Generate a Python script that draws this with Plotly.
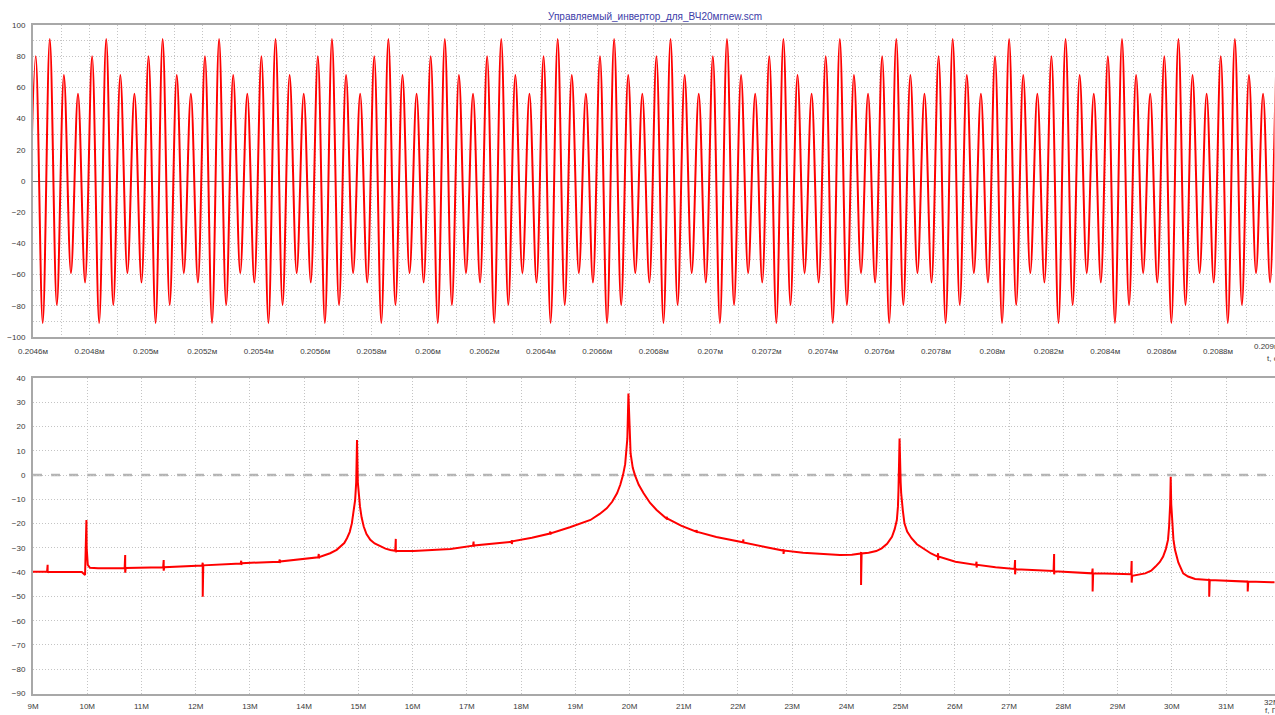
import numpy as np
import plotly.graph_objects as go

# ---------------- data ----------------
TITLE = "Управляемый_инвертор_для_ВЧ20мгnew.scm"

# time-domain: one repeat period (0.2 us) of alternating peak values
wave_period_peaks = [-65, 80, -91, 91, -79.5, 68, -59, 56]
wave_first_peak_ms = 0.2045845      # time of first listed peak (ms)
wave_half_period_ms = 0.000025      # spacing between successive peaks (ms)
wave_periods = 23                   # number of repeats shown

t_tickvals = [0.2046, 0.2048, 0.2050, 0.2052, 0.2054, 0.2056, 0.2058, 0.2060,
              0.2062, 0.2064, 0.2066, 0.2068, 0.2070, 0.2072, 0.2074, 0.2076,
              0.2078, 0.2080, 0.2082, 0.2084, 0.2086, 0.2088, 0.2090]
t_ticktext = ["0.2046м", "0.2048м", "0.205м", "0.2052м", "0.2054м", "0.2056м",
              "0.2058м", "0.206м", "0.2062м", "0.2064м", "0.2066м", "0.2068м",
              "0.207м", "0.2072м", "0.2074м", "0.2076м", "0.2078м", "0.208м",
              "0.2082м", "0.2084м", "0.2086м", "0.2088м", "0.209м"]
v_tickvals = [100, 80, 60, 40, 20, 0, -20, -40, -60, -80, -100]

# spectrum (MHz, dB)
spec_f = [9.00, 9.26, 9.27, 9.27, 9.28, 9.90, 9.96, 9.985, 9.99, 10.01, 10.05, 10.20,
          10.69, 10.70, 10.70, 10.71, 11.40, 11.41, 11.41, 11.42,
          12.12, 12.13, 12.13, 12.14, 12.83, 12.84, 12.84, 12.85,
          13.54, 13.55, 13.55, 13.56, 14.26, 14.27, 14.27, 14.28,
          14.48, 14.60, 14.67, 14.74, 14.79, 14.84, 14.88, 14.92, 14.94, 14.96, 14.975,
          14.99, 15.01, 15.03, 15.06, 15.10, 15.15, 15.22, 15.30, 15.41, 15.50, 15.59,
          15.68, 15.69, 15.69, 15.70, 16.02, 16.40, 16.70,
          17.115, 17.125, 17.125, 17.135, 17.50, 17.82, 17.83, 17.83, 17.84, 18.20,
          18.53, 18.54, 18.54, 18.55, 18.90, 19.28, 19.45, 19.58, 19.68, 19.77, 19.83,
          19.88, 19.92, 19.94, 19.96, 19.98, 20.00, 20.02, 20.06, 20.10, 20.17, 20.26,
          20.38, 20.50, 20.68, 20.69, 20.69, 20.70, 20.95,
          21.23, 21.24, 21.24, 21.25, 21.60, 22.09, 22.10, 22.10, 22.11, 22.50,
          22.83, 22.84, 22.84, 22.85, 23.20, 23.55, 23.88, 24.10, 24.26, 24.27, 24.27,
          24.28, 24.41, 24.55, 24.65, 24.75, 24.84, 24.89, 24.93, 24.95, 24.96, 24.98,
          25.00, 25.01, 25.04, 25.07, 25.12, 25.20, 25.30, 25.45, 25.56,
          25.68, 25.69, 25.69, 25.70, 26.01, 26.39, 26.40, 26.40, 26.41, 26.75,
          27.10, 27.11, 27.11, 27.12, 27.82, 27.83, 27.83, 27.84, 28.16,
          28.53, 28.54, 28.54, 28.55, 28.95, 29.25, 29.26, 29.26, 29.27,
          29.51, 29.62, 29.70, 29.78, 29.84, 29.89, 29.93, 29.95, 29.97, 29.98,
          29.99, 30.01, 30.03, 30.06, 30.12, 30.21, 30.30, 30.43,
          30.68, 30.69, 30.69, 30.70, 31.39, 31.40, 31.40, 31.41, 31.90, 32.00]
spec_db = [-39.8, -39.8, -37.0, -40.2, -39.8, -39.9, -41.2, -18.5, -30.0, -37.0, -38.2, -38.4,
           -38.4, -32.9, -40.2, -38.3, -38.0, -35.0, -39.4, -38.0,
           -37.3, -36.1, -50.1, -37.2, -36.4, -35.3, -37.0, -36.3,
           -35.7, -34.8, -36.2, -35.6, -33.9, -32.5, -34.3, -33.8,
           -32.2, -30.8, -29.5, -28.0, -26.0, -23.5, -19.9, -14.5, -10.3, -3.0, 14.4,
           -3.0, -9.0, -13.0, -17.5, -21.3, -24.3, -26.7, -28.2, -29.5, -30.3, -30.9,
           -31.2, -26.3, -31.8, -31.2, -31.3, -31.0, -30.5,
           -29.1, -27.4, -29.5, -29.0, -28.3, -27.5, -26.9, -28.4, -27.3, -25.8,
           -24.1, -23.3, -24.5, -24.0, -21.5, -18.5, -16.0, -13.7, -11.0, -7.5, -4.0,
           0.0, 4.5, 8.9, 15.0, 33.6, 15.0, 8.9, 3.0, 0.0, -4.0, -7.5,
           -11.5, -14.4, -17.9, -17.2, -18.3, -17.9, -20.8,
           -23.3, -22.6, -23.8, -23.4, -25.5, -27.7, -26.5, -28.0, -27.8, -29.6,
           -31.1, -30.6, -32.5, -31.1, -32.0, -32.5, -32.9, -32.8, -32.3, -31.8, -45.3,
           -32.3, -32.0, -31.3, -30.2, -28.3, -25.4, -22.3, -18.5, -13.0, -6.2, 15.1,
           -3.0, -7.5, -14.5, -19.9, -23.3, -26.0, -28.5, -30.9, -32.3,
           -33.6, -32.2, -35.0, -33.6, -35.7, -37.0, -35.7, -38.1, -37.0, -38.0,
           -38.7, -35.0, -40.9, -38.8, -39.5, -32.5, -40.9, -39.6, -40.0,
           -40.5, -38.5, -48.0, -40.5, -40.7, -40.9, -35.4, -44.3, -41.5,
           -40.5, -39.4, -37.7, -35.8, -33.6, -30.5, -26.7, -21.3, -12.0, -0.7,
           -12.0, -21.3, -26.5, -30.9, -36.0, -40.5, -41.8, -42.8,
           -43.2, -42.8, -50.1, -43.2, -43.9, -43.5, -48.0, -43.9, -44.2, -44.3]

f_tickvals = list(range(9, 33))
f_ticktext = ["9M", "10M", "11M", "12M", "13M", "14M", "15M", "16M", "17M", "18M",
              "19M", "20M", "21M", "22M", "23M", "24M", "25M", "26M", "27M", "28M",
              "29M", "30M", "31M", "32M"]
db_tickvals = [40, 30, 20, 10, 0, -10, -20, -30, -40, -50, -60, -70, -80, -90]

# ---------------- figure ----------------
W, H = 1275, 715
wave_vals = np.tile(wave_period_peaks, wave_periods)
wave_t = wave_first_peak_ms + wave_half_period_ms * np.arange(len(wave_vals))

RED = "#ff0000"
GRID = "#c4c4c4"
AX = "#a8a8a8"
TXT = "#3a3a3a"
FONT = "Liberation Sans, Arial, sans-serif"
DOT = "1px,2px"

fig = go.Figure()
fig.add_trace(go.Scatter(x=wave_t, y=wave_vals, mode="lines",
                         line=dict(color=RED, width=2, shape="spline", smoothing=1),
                         xaxis="x", yaxis="y", hoverinfo="skip", showlegend=False))
fig.add_trace(go.Scatter(x=spec_f, y=spec_db, mode="lines",
                         line=dict(color=RED, width=2),
                         xaxis="x2", yaxis="y2", hoverinfo="skip", showlegend=False))

def px_x(p):
    return p / W

def px_y(p):
    return 1 - p / H

left, right = px_x(33), px_x(1274.5)
top_dom = [px_y(337), px_y(25)]
bot_dom = [px_y(693.5), px_y(378)]

tick_font = dict(family=FONT, size=8, color=TXT)

# the last tick label of each x axis sits at the right edge; draw it left-shifted
t_axis_text = t_ticktext[:-1] + [""]
f_axis_text = f_ticktext[:-1] + [""]

fig.update_layout(
    width=W, height=H,
    margin=dict(l=0, r=0, t=0, b=0, autoexpand=False),
    paper_bgcolor="white", plot_bgcolor="white",
    font=dict(family=FONT, size=8, color=TXT),
    xaxis=dict(domain=[left, right], anchor="y", range=[0.2046, 0.2090],
               automargin=False,
               tickmode="array", tickvals=t_tickvals, ticktext=t_axis_text,
               tickfont=tick_font, ticks="", ticklabelstandoff=5,
               ticklabeloverflow="allow",
               showgrid=True, gridcolor=GRID, griddash=DOT, gridwidth=1,
               minor=dict(tick0=0.2046, dtick=0.0001, showgrid=True,
                          gridcolor=GRID, griddash=DOT, gridwidth=1),
               showline=True, linecolor=AX, linewidth=2, mirror=True,
               zeroline=False),
    yaxis=dict(domain=top_dom, anchor="x", range=[-100, 100],
               automargin=False,
               tickmode="array", tickvals=v_tickvals,
               tickfont=tick_font, ticks="", ticklabelstandoff=4,
               showgrid=True, gridcolor=GRID, griddash=DOT, gridwidth=1,
               minor=dict(tick0=0, dtick=10, showgrid=True,
                          gridcolor=GRID, griddash=DOT, gridwidth=1),
               showline=True, linecolor=AX, linewidth=2,
               zeroline=True, zerolinecolor="#707070", zerolinewidth=1),
    xaxis2=dict(domain=[left, right], anchor="y2", range=[9, 31.894],
                automargin=False,
                tickmode="array", tickvals=f_tickvals, ticktext=f_axis_text,
                tickfont=tick_font, ticks="", ticklabelstandoff=4,
                ticklabeloverflow="allow",
                showgrid=True, gridcolor=GRID, griddash=DOT, gridwidth=1,
                showline=True, linecolor=AX, linewidth=2, mirror=True,
                zeroline=False),
    yaxis2=dict(domain=bot_dom, anchor="x2", range=[-90, 40],
                automargin=False,
                tickmode="array", tickvals=db_tickvals,
                tickfont=tick_font, ticks="", ticklabelstandoff=4,
                showgrid=True, gridcolor=GRID, griddash=DOT, gridwidth=1,
                showline=True, linecolor=AX, linewidth=2,
                zeroline=False),
    shapes=[dict(type="line", xref="x2 domain", yref="y2", x0=0, x1=1, y0=0, y1=0,
                 line=dict(color="#b4b4b4", width=2.5, dash="dash"), layer="below")],
    annotations=[
        dict(text=TITLE, xref="paper", yref="paper", x=px_x(655), y=px_y(16),
             xanchor="center", yanchor="middle", showarrow=False,
             font=dict(family=FONT, size=10, color="#3c3ca8")),
        dict(text=t_ticktext[-1], xref="paper", yref="paper", x=px_x(1252), y=px_y(347),
             xanchor="left", yanchor="middle", showarrow=False, font=tick_font),
        dict(text=f_ticktext[-1], xref="paper", yref="paper", x=px_x(1262), y=px_y(702),
             xanchor="left", yanchor="middle", showarrow=False, font=tick_font),
        dict(text="t, c", xref="paper", yref="paper", x=px_x(1265), y=px_y(358),
             xanchor="left", yanchor="middle", showarrow=False, font=tick_font),
        dict(text="f, Гц", xref="paper", yref="paper", x=px_x(1263), y=px_y(710),
             xanchor="left", yanchor="middle", showarrow=False, font=tick_font),
    ],
)

fig.write_html(
    "out.html",
    config={"displayModeBar": False},
    post_script="document.body.style.margin='0';"
                "document.documentElement.style.overflow='hidden';",
)
